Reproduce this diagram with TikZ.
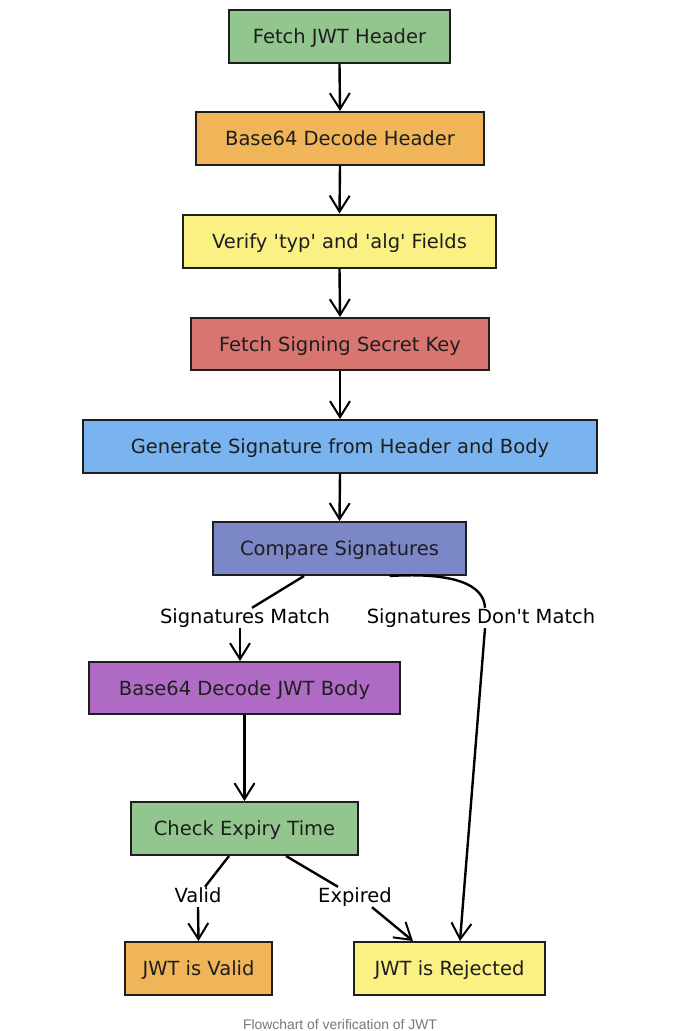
\documentclass[tikz,border=0pt]{standalone}
\usepackage{fontspec}
\setmainfont{DejaVu Sans}
\newfontfamily\capfont{Liberation Sans}
\usetikzlibrary{arrows.meta}
\definecolor{cgreen}{RGB}{147,198,142}
\definecolor{corange}{RGB}{240,181,89}
\definecolor{cyellow}{RGB}{251,240,131}
\definecolor{cred}{RGB}{216,117,112}
\definecolor{cblue}{RGB}{122,180,240}
\definecolor{cslate}{RGB}{124,135,199}
\definecolor{cpurple}{RGB}{176,108,196}
\definecolor{ink}{RGB}{30,30,30}
\definecolor{capgray}{RGB}{120,120,120}
\newcommand{\sq}{\textquotesingle}
\tikzset{
  box/.style={draw=ink, line width=2pt, minimum height=53pt, inner sep=0pt,
    font=\fontsize{19.5}{22}\selectfont, text=ink, text height=14pt, text depth=0pt},
  lbl/.style={font=\fontsize{19.5}{22}\selectfont, text=black, inner sep=1pt, text height=14pt, text depth=4pt},
  conn/.style={line width=2.4pt, draw=black},
  arr/.style={conn, -{Straight Barb[length=16pt,width=20pt,line width=2pt]}},
}
\begin{document}
\begin{tikzpicture}[x=1pt,y=-1pt]
\useasboundingbox (0,0) rectangle (680,1031);
\fill[white] (0,0) rectangle (680,1031);

\node[box, fill=cgreen, minimum width=221pt] (n1) at (339.5,36.5) {Fetch JWT Header};
\node[box, fill=corange, minimum width=288pt] (n2) at (340,138.5) {Base64 Decode Header};
\node[box, fill=cyellow, minimum width=313pt] (n3) at (339.5,241) {Verify \sq typ\sq\ and \sq alg\sq\ Fields};
\node[box, fill=cred, minimum width=298pt, minimum height=52pt] (n4) at (340,344) {Fetch Signing Secret Key};
\node[box, fill=cblue, minimum width=514pt] (n5) at (340,446.5) {Generate Signature from Header and Body};
\node[box, fill=cslate, minimum width=253pt] (n6) at (339.5,548.5) {Compare Signatures};
\node[box, fill=cpurple, minimum width=311pt, minimum height=52pt] (n7) at (244.5,688) {Base64 Decode JWT Body};
\node[box, fill=cgreen, minimum width=227pt] (n8) at (244.5,828.5) {Check Expiry Time};
\node[box, fill=corange, minimum width=147pt] (n9) at (198.5,968.5) {JWT is Valid};
\node[box, fill=cyellow, minimum width=191pt] (n10) at (449.5,968.5) {JWT is Rejected};

\node[lbl] (lm) at (245,618) {Signatures Match};
\node[lbl] (ldm) at (481,618) {Signatures Don\sq t Match};
\node[lbl] (lv) at (198,897) {Valid};
\node[lbl] (le) at (355,897) {Expired};

\draw[arr] (n1.south) -- (n2.north);
\draw[arr] (n2.south) -- (n3.north);
\draw[arr] (n3.south) -- (n4.north);
\draw[arr] (n4.south) -- (n5.north);
\draw[arr] (n5.south) -- (n6.north);

\draw[conn] ([xshift=-35.5pt]n6.south) -- ([xshift=7pt]lm.north);
\draw[arr] ([xshift=-5pt]lm.south) -- ([xshift=-4.5pt]n7.north);

\draw[conn] ([xshift=50pt]n6.south) .. controls (455,572) and (484,585) .. ([xshift=4pt]ldm.north);
\draw[arr] ([xshift=4pt]ldm.south) -- ([xshift=10.5pt]n10.north);

\draw[arr] (n7.south) -- (n8.north);

\draw[conn] ([xshift=-15.5pt]n8.south) -- ([xshift=7pt]lv.north);
\draw[arr] (lv.south) -- (n9.north);

\draw[conn] ([xshift=41.5pt]n8.south) -- ([xshift=-17pt]le.north);
\draw[arr] ([xshift=17pt]le.south) -- ([xshift=-36.5pt]n10.north);

\node[font=\capfont\fontsize{13.9}{16}\selectfont, text=capgray] (cap) at (340,1025) {Flowchart of verification of JWT};
\end{tikzpicture}
\end{document}
